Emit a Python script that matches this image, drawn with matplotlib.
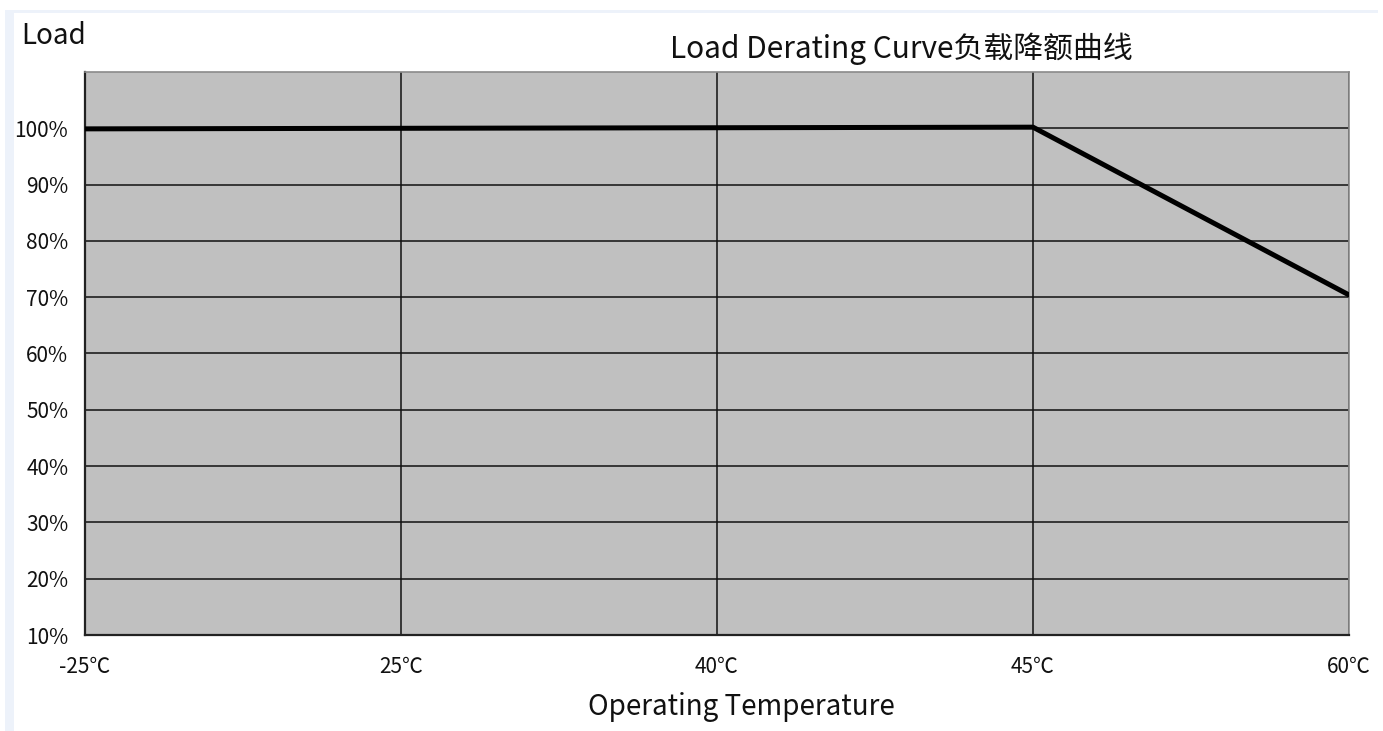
import matplotlib
matplotlib.use("Agg")
import matplotlib.pyplot as plt
from matplotlib.patches import Rectangle

plt.rcParams['font.family'] = ['Noto Sans CJK SC', 'DejaVu Sans']

# Data
temps = ['-25℃', '25℃', '40℃', '45℃', '60℃']
load = [99.9, 100.0, 100.1, 100.2, 70.4]
y_ticks = [10, 20, 30, 40, 50, 60, 70, 80, 90, 100]
y_tick_labels = [f'{v}%' for v in y_ticks]
title = 'Load Derating Curve负载降额曲线'
x_label = 'Operating Temperature'
y_label = 'Load'

W, H = 1383, 731
fig = plt.figure(figsize=(W / 100, H / 100), dpi=100)
fig.patch.set_facecolor('white')

# light blue frame around the picture
fig.patches.append(Rectangle((5 / W, 0), 1 - 5 / W - 5 / W, 1 - 10 / H,
                             transform=fig.transFigure, facecolor='#edf2fa',
                             edgecolor='none', zorder=-2))
fig.patches.append(Rectangle((14 / W, 0), 1 - 14 / W - 5 / W, 1 - 13 / H,
                             transform=fig.transFigure, facecolor='white',
                             edgecolor='none', zorder=-1))

left, right, top, bottom = 85, 1349, 72, 635
ax = fig.add_axes([left / W, 1 - bottom / H, (right - left) / W, (bottom - top) / H])
ax.set_facecolor('#c0c0c0')

x = list(range(len(temps)))
ax.plot(x, load, color='black', lw=3.6, solid_capstyle='round', zorder=3)

ax.set_xlim(0, len(temps) - 1)
ax.set_ylim(10, 110)
ax.set_xticks(x)
ax.set_xticklabels(temps)
ax.set_yticks(y_ticks)
ax.set_yticklabels(y_tick_labels)
ax.tick_params(axis='both', length=0, labelsize=15, colors='#111111')
ax.tick_params(axis='x', pad=15)
ax.tick_params(axis='y', pad=12)
for lbl in ax.get_yticklabels():
    lbl.set_horizontalalignment('right')

ax.grid(True, color='#111111', lw=1.1)
ax.set_axisbelow(True)
for s in ['left', 'bottom']:
    ax.spines[s].set_color('#222222')
    ax.spines[s].set_linewidth(1.6)
for s in ['top', 'right']:
    ax.spines[s].set_color('#8a8a8a')
    ax.spines[s].set_linewidth(1.2)

fig.text(901 / W, 1 - 49 / H, title, ha='center', va='center', fontsize=21.5, color='#111111')
fig.text(21 / W, 1 - 36 / H, y_label, ha='left', va='center', fontsize=20, color='#111111')
fig.text(741 / W, 1 - 707 / H, x_label, ha='center', va='center', fontsize=20, color='#111111')

fig.savefig('out.png', dpi=100, facecolor=fig.get_facecolor())
